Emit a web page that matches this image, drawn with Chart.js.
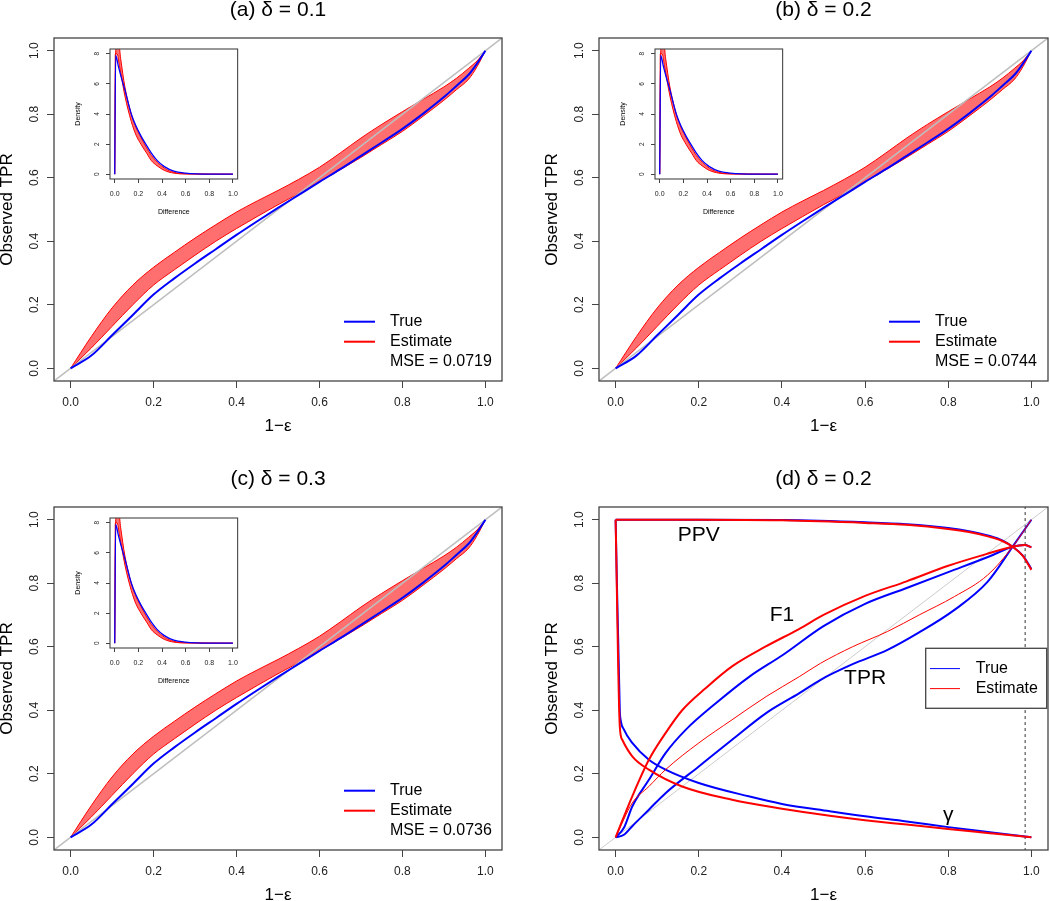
<!DOCTYPE html>
<html><head><meta charset="utf-8">
<script src="https://cdn.jsdelivr.net/npm/chart.js"></script>
<style>
html,body{margin:0;padding:0;background:#fff;}
#wrap{position:relative;width:1050px;height:901px;overflow:hidden;background:#fff;}
canvas{position:absolute;}
</style></head>
<body><div id="wrap">
<canvas id="ca" width="525" height="450" style="left:0;top:0"></canvas>
<canvas id="cb" width="525" height="450" style="left:525px;top:0"></canvas>
<canvas id="cc" width="525" height="451" style="left:0;top:450px"></canvas>
<canvas id="cd" width="525" height="451" style="left:525px;top:450px"></canvas>
<canvas id="ia" width="175" height="180" style="left:70px;top:44px"></canvas>
<canvas id="ib" width="175" height="180" style="left:615px;top:44px"></canvas>
<canvas id="ic" width="175" height="180" style="left:70px;top:513px"></canvas>
</div>
<script>
// ---------- data ----------
const AXIS_TICKS = [0, 0.2, 0.4, 0.6, 0.8, 1.0];
const INSET_Y_TICKS = [0, 2, 4, 6, 8];

// panels (a)-(c): observed TPR vs 1-eps
const EPS_X     = [0,0.05,0.1,0.15,0.2,0.25,0.3,0.35,0.4,0.45,0.5,0.55,0.6,0.65,0.7,0.75,0.8,0.85,0.9,0.93,0.96,0.98,1.0];
const TPR_TRUE  = [0,0.04,0.104,0.168,0.232,0.283,0.33,0.375,0.42,0.463,0.505,0.546,0.587,0.627,0.669,0.711,0.754,0.802,0.854,0.889,0.925,0.96,1.0];
const EST_UPPER = [0,0.1,0.19,0.262,0.318,0.365,0.41,0.452,0.492,0.527,0.56,0.595,0.633,0.678,0.725,0.768,0.808,0.847,0.886,0.913,0.945,0.968,1.0];
const EST_LOWER = [0,0.064,0.132,0.2,0.262,0.31,0.356,0.4,0.44,0.478,0.515,0.55,0.587,0.625,0.664,0.705,0.746,0.794,0.844,0.877,0.911,0.95,1.0];
const MSE = ["0.0719", "0.0744", "0.0736"];
const DELTA = ["0.1", "0.2", "0.3", "0.2"];

// insets: density of the difference
const DENS_TRUE_X = [0,0.008,0.03,0.06,0.086,0.14,0.18,0.225,0.27,0.31,0.36,0.42,0.5,0.6,0.7,0.8,1.0];
const DENS_TRUE_Y = [0,7.9,7.2,6.3,5.6,4.0,3.2,2.5,1.9,1.4,0.9,0.5,0.2,0.07,0.02,0.005,0];
const DENS_UP_X   = [0,0.01,0.035,0.05,0.086,0.14,0.18,0.225,0.27,0.31,0.36,0.42,0.5,0.6,1.0];
const DENS_UP_Y   = [0,8.6,8.6,7.7,5.8,4.0,3.1,2.4,1.75,1.25,0.8,0.4,0.13,0.03,0];
const DENS_LO_X   = [0,0.005,0.02,0.04,0.086,0.14,0.18,0.225,0.27,0.31,0.36,0.42,0.5,0.6,1.0];
const DENS_LO_Y   = [0,8.0,8.0,7.2,5.2,3.5,2.6,1.95,1.4,0.9,0.55,0.25,0.07,0.01,0];

// panel (d)
const PPV_X      = [0,0.2,0.4,0.6,0.7,0.8,0.85,0.9,0.93,0.955,0.98,1.0];
const PPV_EST    = [1,1.0,0.998,0.99,0.984,0.971,0.961,0.946,0.933,0.915,0.885,0.842];
const PPV_TRUE   = [1,1.0,0.999,0.992,0.986,0.974,0.964,0.949,0.935,0.915,0.886,0.845];
const F1_EST_X   = [0,0.04,0.08,0.12,0.16,0.217,0.28,0.36,0.44,0.5,0.6,0.7,0.8,0.9,0.955,0.984,1.0];
const F1_EST     = [0,0.129,0.244,0.328,0.40,0.47,0.538,0.60,0.655,0.70,0.76,0.806,0.855,0.895,0.915,0.92,0.913];
const F1_TRUE_X  = [0,0.02,0.04,0.08,0.12,0.169,0.241,0.322,0.402,0.5,0.6,0.7,0.8,0.9,0.955,0.984,1.0];
const F1_TRUE    = [0,0.03,0.097,0.181,0.265,0.339,0.422,0.506,0.574,0.665,0.735,0.785,0.835,0.885,0.915,0.92,0.913];
const TPR_EST_X  = [0,0.04,0.08,0.12,0.2,0.28,0.362,0.442,0.493,0.57,0.654,0.73,0.815,0.895,0.955,1.0];
const TPR_EST_D  = [0,0.108,0.16,0.213,0.297,0.37,0.443,0.506,0.548,0.6,0.648,0.70,0.758,0.826,0.915,1.0];
const TPR_TRUE_X = [0,0.02,0.04,0.08,0.12,0.2,0.28,0.362,0.442,0.493,0.57,0.654,0.73,0.815,0.895,0.955,1.0];
const TPR_TRUE_D = [0,0.008,0.035,0.087,0.139,0.223,0.307,0.391,0.454,0.496,0.545,0.59,0.645,0.716,0.805,0.915,1.0];
const GAM_EST_X  = [0,0.01,0.016,0.04,0.08,0.16,0.28,0.4,0.515,0.6,0.7,0.8,0.9,1.0];
const GAM_EST    = [1,0.35,0.307,0.255,0.213,0.16,0.118,0.09,0.068,0.054,0.04,0.026,0.013,0.0];
const GAM_TRUE_X = [0,0.01,0.012,0.02,0.04,0.08,0.12,0.2,0.32,0.4,0.515,0.6,0.7,0.8,0.9,1.0];
const GAM_TRUE   = [1,0.40,0.37,0.339,0.297,0.244,0.213,0.171,0.129,0.105,0.082,0.066,0.05,0.032,0.016,0.0];
const CUTOFF = 0.985;
const D_LABELS = [{t:"PPV",x:0.2,y:0.95},{t:"F1",x:0.4,y:0.7},{t:"TPR",x:0.6,y:0.5},{t:"γ",x:0.8,y:0.07}];

// ---------- helpers ----------
const FONT = '"Liberation Sans", Arial, Helvetica, sans-serif';
const BLUE = '#0000ff', RED = '#ff0000', GRAY = '#bebebe';
function pts(xs, ys){ return xs.map((x,i)=>({x:x, y:ys[i]})); }
function ln(xs, ys, color, w, extra){
  return Object.assign({data:pts(xs,ys), borderColor:color, borderWidth:w, pointRadius:0,
    cubicInterpolationMode:'monotone', fill:false}, extra||{});
}
function diag(color, w){
  return {data:[{x:-0.1,y:-0.1},{x:1.1,y:1.1}], borderColor:color, borderWidth:w, pointRadius:0, tension:0, fill:false};
}

const DECO = {};
const rdeco = {
  id:'rdeco',
  afterDraw(chart){
    const d = DECO[chart.canvas.id]; if(!d) return;
    const ctx = chart.ctx, ca = chart.chartArea, xs = chart.scales.x, ys = chart.scales.y;
    ctx.save();
    ctx.strokeStyle = '#444'; ctx.lineWidth = d.boxW;
    ctx.strokeRect(ca.left, ca.top, ca.right-ca.left, ca.bottom-ca.top);
    ctx.fillStyle = '#222'; ctx.textAlign = 'center'; ctx.textBaseline = 'middle';
    ctx.font = d.tickFont;
    ys.ticks.forEach(t=>{
      const py = ys.getPixelForValue(t.value);
      ctx.save(); ctx.translate(ca.left - d.yTickOff, py); ctx.rotate(-Math.PI/2);
      ctx.fillText(t.value.toFixed(d.yDigits), 0, 0); ctx.restore();
    });
    ctx.fillStyle = '#000';
    if (d.title){ ctx.font = d.titleFont; ctx.fillText(d.title, (ca.left+ca.right)/2, ca.top - d.titleOff); }
    ctx.font = d.labFont;
    ctx.save(); ctx.translate(ca.left - d.ylabOff, (ca.top+ca.bottom)/2); ctx.rotate(-Math.PI/2);
    ctx.fillText(d.ylab, 0, 0); ctx.restore();
    ctx.fillText(d.xlab, (ca.left+ca.right)/2, ca.bottom + d.xlabOff);
    if (d.texts){
      ctx.font = d.textFont;
      d.texts.forEach(t=> ctx.fillText(t.t, xs.getPixelForValue(t.x), ys.getPixelForValue(t.y)));
    }
    if (d.legend){
      const L = d.legend;
      if (L.box){
        ctx.fillStyle = '#fff';
        ctx.fillRect(ca.left+L.box[0], ca.top+L.box[1], L.box[2], L.box[3]);
        ctx.strokeStyle = '#444'; ctx.lineWidth = 1.3;
        ctx.strokeRect(ca.left+L.box[0], ca.top+L.box[1], L.box[2], L.box[3]);
      }
      ctx.font = L.font; ctx.textAlign = 'left'; ctx.textBaseline = 'middle';
      L.rows.forEach((r,i)=>{
        const y = ca.top + L.y0 + i*L.dy;
        if (r.c){
          ctx.strokeStyle = r.c; ctx.lineWidth = r.w;
          ctx.beginPath(); ctx.moveTo(ca.left+L.x1, y); ctx.lineTo(ca.left+L.x2, y); ctx.stroke();
        }
        ctx.fillStyle = '#000';
        ctx.fillText(r.t, ca.left+L.tx, y);
      });
    }
    ctx.restore();
  }
};

function makeChart(id, datasets, o){
  return new Chart(document.getElementById(id), {
    type:'line',
    data:{datasets:datasets},
    options:{
      responsive:false, animation:false, devicePixelRatio:1, events:[],
      layout:{padding:{left:0, right:o.padR, top:o.padT, bottom:0}},
      plugins:{legend:{display:false}, tooltip:{enabled:false}, title:{display:false},
        filler:{drawTime:'beforeDatasetsDraw'}},
      scales:{
        x:{type:'linear', min:-0.04, max:1.04,
          afterBuildTicks:s=>{ s.ticks = AXIS_TICKS.map(v=>({value:v})); },
          afterFit:s=>{ s.height = o.xh; },
          ticks:{font:{family:FONT, size:o.tick}, color:'#222', padding:o.tickPad, maxRotation:0, autoSkip:false,
            callback:v=>Number(v).toFixed(1)},
          grid:{drawOnChartArea:false, drawTicks:true, tickLength:o.tl, color:'#444', lineWidth:1},
          border:{display:false}},
        y:{type:'linear', min:o.ymin, max:o.ymax,
          afterBuildTicks:s=>{ s.ticks = o.yt.map(v=>({value:v})); },
          afterFit:s=>{ s.width = o.yw; },
          ticks:{display:false},
          grid:{drawOnChartArea:false, drawTicks:true, tickLength:o.tl, color:'#444', lineWidth:1},
          border:{display:false}}
      }
    },
    plugins:[rdeco]
  });
}

const FILL = 'rgba(255,55,55,0.72)';
function bandSets(){
  return [
    ln(EPS_X, TPR_TRUE, BLUE, 2),
    diag(GRAY, 1.5),
    ln(EPS_X, EST_UPPER, RED, 1, {fill:'+1', backgroundColor:FILL}),
    ln(EPS_X, EST_LOWER, RED, 1)
  ];
}
function insetSets(){
  return [
    ln(DENS_TRUE_X, DENS_TRUE_Y, BLUE, 1.3),
    ln(DENS_UP_X, DENS_UP_Y, RED, 1, {fill:'+1', backgroundColor:FILL}),
    ln(DENS_LO_X, DENS_LO_Y, RED, 1)
  ];
}
const MAIN_AB = {padR:0, padT:38, xh:69, tick:12, tickPad:7, tl:7, ymin:-0.04, ymax:1.04, yt:AXIS_TICKS};
const MAIN_CD = {padR:0, padT:57, xh:51, tick:12, tickPad:7, tl:7, ymin:-0.04, ymax:1.04, yt:AXIS_TICKS};
const INSET = {padR:6, padT:5, xh:45, yw:40, tick:7, tickPad:7, tl:4, ymin:-0.32, ymax:8.32, yt:INSET_Y_TICKS};

function mainDeco(letter, k){
  return {boxW:1.3, tickFont:'12px '+FONT, yTickOff:19, yDigits:1,
    title:'('+letter+') δ = '+DELTA[k], titleFont:'21px '+FONT, titleOff:27.5,
    labFont:'17px '+FONT, ylab:'Observed TPR', ylabOff:47, xlab:'1−ε', xlabOff:45.5,
    legend: k<3 ? {font:'16px '+FONT, x1:290, x2:321, tx:336, y0:283.7, dy:20,
      rows:[{c:BLUE,w:2,t:'True'},{c:RED,w:2,t:'Estimate'},{t:'MSE = '+MSE[k]}]} : null};
}
function insetDeco(){
  return {boxW:1.1, tickFont:'6.5px '+FONT, yTickOff:13, yDigits:0,
    labFont:'7px '+FONT, ylab:'Density', ylabOff:32, xlab:'Difference', xlabOff:33};
}

DECO.ca = mainDeco('a',0);
DECO.cb = mainDeco('b',1);
DECO.cc = mainDeco('c',2);
const dd = mainDeco('d',3);
dd.texts = D_LABELS; dd.textFont = '21px '+FONT;
dd.legend = {font:'16px '+FONT, box:[326.7,141.3,121,60], x1:331, x2:361, tx:376.7, y0:161.6, dy:20,
  rows:[{c:BLUE,w:1,t:'True'},{c:RED,w:1,t:'Estimate'}]};
DECO.cd = dd;
DECO.ia = insetDeco(); DECO.ib = insetDeco(); DECO.ic = insetDeco();

makeChart('ca', bandSets(), Object.assign({}, MAIN_AB, {yw:54, padR:23}));
makeChart('cb', bandSets(), Object.assign({}, MAIN_AB, {yw:74, padR:2}));
makeChart('cc', bandSets(), Object.assign({}, MAIN_CD, {yw:54, padR:23}));
makeChart('cd', [
  ln(PPV_X, PPV_EST, RED, 2),
  ln(F1_EST_X, F1_EST, RED, 2),
  ln(TPR_EST_X, TPR_EST_D, RED, 1),
  ln(GAM_EST_X, GAM_EST, RED, 2),
  ln(PPV_X, PPV_TRUE, BLUE, 2),
  ln(F1_TRUE_X, F1_TRUE, BLUE, 2),
  ln(TPR_TRUE_X, TPR_TRUE_D, BLUE, 2),
  ln(GAM_TRUE_X, GAM_TRUE, BLUE, 2),
  diag('#cccccc', 1),
  {data:[{x:CUTOFF,y:-0.1},{x:CUTOFF,y:1.1}], borderColor:'#333', borderWidth:1, borderDash:[3,3], pointRadius:0, tension:0, fill:false}
], Object.assign({}, MAIN_CD, {yw:74, padR:2}));
makeChart('ia', insetSets(), INSET);
makeChart('ib', insetSets(), INSET);
makeChart('ic', insetSets(), INSET);
</script></body></html>
